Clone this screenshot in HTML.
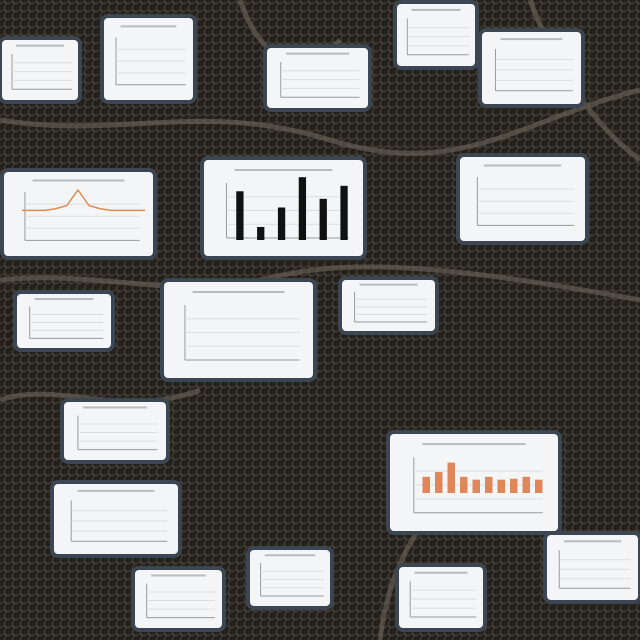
<!DOCTYPE html>
<html><head><meta charset="utf-8">
<style>
html,body{margin:0;padding:0;background:#221f1c;}
svg{display:block;font-family:"Liberation Sans",sans-serif;}
</style></head>
<body>
<svg id="c" width="640" height="640" viewBox="0 0 640 640">
<defs>
<pattern id="mesh" width="8" height="8" patternUnits="userSpaceOnUse">
<rect width="8" height="8" fill="#24201c"/>
<path d="M0 4 Q4 0 8 4 M4 0 Q8 4 4 8" stroke="#4a443c" stroke-width="1" fill="none"/>
</pattern>
</defs>
<rect width="640" height="640" fill="url(#mesh)"/>
<g stroke="#6d665c" stroke-width="5" fill="none" opacity="0.6">
<path d="M0 120 C120 140 200 100 330 140 S520 120 640 90"/>
<path d="M0 280 C100 270 180 300 260 280 S420 260 640 300"/>
<path d="M530 0 C560 80 600 130 640 160"/>
<path d="M380 640 C390 560 420 520 470 470"/>
<path d="M0 400 C60 380 120 420 200 390"/>
<path d="M240 0 C260 60 300 80 340 40"/>
</g>
<g id="cards"></g>
</svg>
<script>
// Bar chart (center card) values
const barCats = ['a','b','c','d','e','f'];
const barVals = [45, 12, 30, 58, 38, 50];
// Orange bar chart values
const orangeCats = ['1','2','3','4','5','6','7','8','9','10'];
const orangeVals = [17, 22, 32, 17, 14, 17, 14, 15, 17, 14];
// Line chart values
const lineVals = [3, 3, 3, 4, 6, 16, 6, 4, 3, 3, 3, 3];

const NS='http://www.w3.org/2000/svg';
const g=document.getElementById('cards');
function mk(t,a,p){const e=document.createElementNS(NS,t);for(const k in a)e.setAttribute(k,a[k]);(p||g).appendChild(e);return e;}
const cards=[
[0,38,80,64],[102,16,93,86],[265,46,105,64],[395,2,82,66],[480,30,103,76],
[2,170,153,88],[202,158,163,100],[458,155,129,88],[15,292,98,58],[162,280,153,100],
[340,278,97,55],[62,400,106,62],[388,432,172,101],[52,482,128,74],[248,548,84,60],
[133,568,91,62],[397,565,88,65],[545,533,95,69]];
cards.forEach((c,i)=>{
 const grp=mk('g',{});
 
 
 const r=mk('rect',{x:c[0],y:c[1],width:c[2],height:c[3],rx:6,fill:'#f4f5f6',stroke:'#3c4652','stroke-width':4},grp);
 // generic axes + grid
 const ax=c[0]+c[2]*0.15, ay=c[1]+c[3]*0.8, top=c[1]+c[3]*0.25, right=c[0]+c[2]*0.9;
 mk('line',{x1:ax,y1:top,x2:ax,y2:ay,stroke:'#999','stroke-width':1},grp);
 mk('line',{x1:ax,y1:ay,x2:right,y2:ay,stroke:'#999','stroke-width':1},grp);
 for(let k=1;k<4;k++){const y=ay-(ay-top)*k/4;mk('line',{x1:ax,y1:y,x2:right,y2:y,stroke:'#ddd','stroke-width':1},grp);}
 mk('line',{x1:c[0]+c[2]*0.2,y1:c[1]+c[3]*0.12,x2:c[0]+c[2]*0.8,y2:c[1]+c[3]*0.12,stroke:'#bbb','stroke-width':2},grp);
});
// center bar chart
(function(){
 const x0=230,x1=355,base=240,top=175,maxV=60;
 const bw=(x1-x0)/barCats.length;
 barVals.forEach((v,i)=>{
  const h=(v/maxV)*(base-top);
  const b=mk('rect',{x:x0+i*bw+bw*0.3,y:base-h,width:bw*0.35,height:h,fill:'#111'});
  
  
 });
})();
// orange bar chart
(function(){
 const x0=420,x1=545,base=493,top=455,maxV=40;
 const bw=(x1-x0)/orangeCats.length;
 orangeVals.forEach((v,i)=>{
  const h=(v/maxV)*(base-top);
  const b=mk('rect',{x:x0+i*bw+bw*0.2,y:base-h,width:bw*0.6,height:h,fill:'#e0875a'});
  
  
 });
})();
// line chart
(function(){
 const x0=22,x1=145,base=215,top=190,maxV=16;
 const step=(x1-x0)/(lineVals.length-1);
 const pts=lineVals.map((v,i)=>(x0+i*step)+','+(base-(v/maxV)*(base-top))).join(' ');
 const l=mk('polyline',{points:pts,fill:'none',stroke:'#e08a50','stroke-width':1.5});
 
 
})();
</script>
</body></html>
